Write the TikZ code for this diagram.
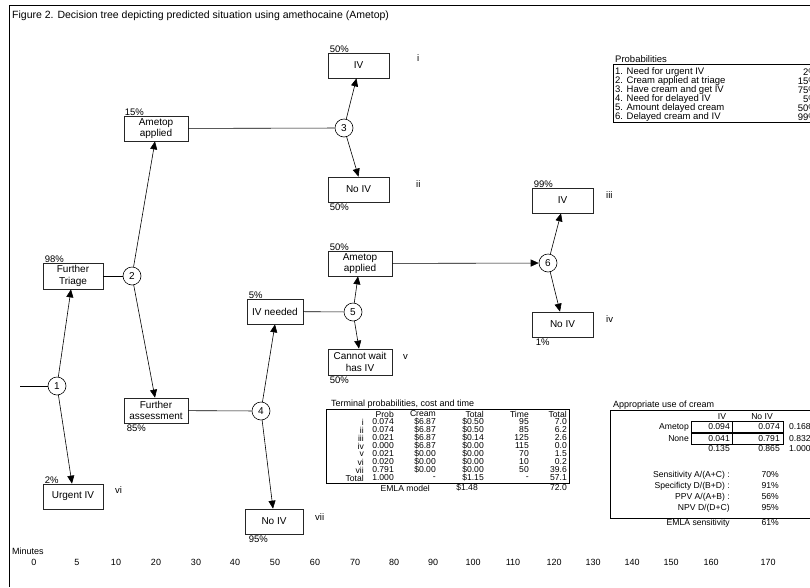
\documentclass[tikz,border=0pt]{standalone}
\usepackage{fontspec}
\setmainfont{Liberation Sans}
\usetikzlibrary{arrows.meta}

\begin{document}
\begin{tikzpicture}[x=1pt,y=-1pt,
  box/.style={draw=black!85,line width=0.7pt,minimum width=61pt,minimum height=25pt,inner sep=1pt,align=center,font=\fontsize{10}{11.5}\selectfont},
  chance/.style={circle,draw,line width=0.6pt,minimum size=18pt,inner sep=0pt,font=\fontsize{10}{10}\selectfont},
  arr/.style={-{Triangle[length=8pt,width=7pt]},line width=0.6pt},
  pct/.style={inner sep=0pt,font=\fontsize{9.5}{9.5}\selectfont},
  lbl/.style={anchor=west,inner sep=0pt,font=\fontsize{9.5}{9.5}\selectfont},
  tab/.style={anchor=east,inner sep=0pt,font=\fontsize{8.6}{8.6}\selectfont}]
\clip (0,0) rectangle (810,587);
\fill[white] (0,0) rectangle (810,587);
\draw[line width=0.6pt] (810,5) -- (9,5) -- (9,587);
\node[anchor=west,inner sep=0pt,font=\fontsize{10.5}{11}\selectfont] (title) at (12,16) {Figure 2. Decision tree depicting predicted situation using amethocaine (Ametop)};

% decision tree
\node[box] (ivA) at (358.5,65.5) {IV};
\node[box] (noivA) at (358.5,189.5) {No IV};
\node[box,minimum width=64pt] (amA) at (156,128.5) {Ametop\\applied};
\node[box,minimum width=60pt,minimum height=26pt] (triage) at (73,276) {Further\\Triage};
\node[box,minimum width=64pt] (assess) at (156,410.5) {Further\\assessment};
\node[box,minimum width=60pt] (urgent) at (73,496.5) {Urgent IV};
\node[box,minimum width=56pt] (ivneed) at (275,311.5) {IV needed};
\node[box,minimum width=58pt] (noivB) at (274,521.5) {No IV};
\node[box,minimum width=64pt] (amB) at (360,263.5) {Ametop\\applied};
\node[box,minimum width=64pt,minimum height=26pt] (wait) at (360,362) {Cannot wait\\has IV};
\node[box] (ivC) at (562.5,200.5) {IV};
\node[box] (noivC) at (562.5,324.5) {No IV};

\node[chance] (c1) at (57,386) {1};
\node[chance] (c2) at (132,276) {2};
\node[chance] (c3) at (344,128) {3};
\node[chance] (c4) at (261,411) {4};
\node[chance] (c5) at (353,312) {5};
\node[chance] (c6) at (548,263) {6};
\coordinate (entry) at (20,386);

\draw[line width=0.6pt] (entry) -- (c1);
\draw[line width=0.6pt] (triage) -- (c2);
\draw[line width=0.6pt] (amA) -- (c3);
\draw[line width=0.6pt] (assess) -- (c4);
\draw[line width=0.6pt] (ivneed) -- (c5);
\draw[arr] (amB) -- (c6);
\draw[arr] (c1) -- ([xshift=-2pt]triage.south);
\draw[arr] (c1) -- ([xshift=-1pt]urgent.north);
\draw[arr] (c2) -- ([xshift=-1pt]amA.south);
\draw[arr] (c2) -- ([xshift=-1pt]assess.north);
\draw[arr] (c3) -- ([xshift=-2pt]ivA.south);
\draw[arr] (c3) -- (noivA.north);
\draw[arr] (c4) -- (ivneed.south);
\draw[arr] (c4) -- ([xshift=-1pt]noivB.north);
\draw[arr] (c5) -- ([xshift=-2pt]amB.south);
\draw[arr] (c5) -- ([xshift=-1pt]wait.north);
\draw[arr] (c6) -- ([xshift=-1.5pt]ivC.south);
\draw[arr] (c6) -- ([xshift=-2.5pt]noivC.north);

% percentages
\node[pct,anchor=south west] (pA) at ([xshift=2pt]ivA.north west) {50\%};
\node[pct,anchor=north west] (pB) at ([xshift=2pt,yshift=-1pt]noivA.south west) {50\%};
\node[pct,anchor=south west] (pC) at ([xshift=1pt]amA.north west) {15\%};
\node[pct,anchor=south west] (pD) at ([xshift=2pt]triage.north west) {98\%};
\node[pct,anchor=north west] (pE) at ([xshift=3pt,yshift=-1pt]assess.south west) {85\%};
\node[pct,anchor=south west] (pF) at ([xshift=2pt]urgent.north west) {2\%};
\node[pct,anchor=south west] (pG) at ([xshift=2pt]ivneed.north west) {5\%};
\node[pct,anchor=north west] (pH) at ([xshift=4pt,yshift=-1pt]noivB.south west) {95\%};
\node[pct,anchor=south west] (pI) at ([xshift=2pt]amB.north west) {50\%};
\node[pct,anchor=north west] (pJ) at ([xshift=2pt,yshift=-1pt]wait.south west) {50\%};
\node[pct,anchor=south west] (pK) at ([xshift=2pt]ivC.north west) {99\%};
\node[pct,anchor=north west] (pL) at ([xshift=4pt,yshift=-1pt]noivC.south west) {1\%};

% outcome labels
\node[lbl] (ri) at (417,58) {i};
\node[lbl] (rii) at (416,184) {ii};
\node[lbl] (riii) at (606,195) {iii};
\node[lbl] (riv) at (606,319) {iv};
\node[lbl] (rv) at (403,357) {v};
\node[lbl] (rvi) at (115,490) {vi};
\node[lbl] (rvii) at (315,517) {vii};

% probabilities
\node[lbl] (probt) at (615,59) {Probabilities};
\draw[line width=0.6pt] (613,64) rectangle (830,122);
\foreach \txt/\val [count=\k] in {1. Need for urgent IV/2,2. Cream applied at triage/15,3. Have cream and get IV/75,4. Need for delayed IV/5,5. Amount delayed cream/50,6. Delayed cream and IV/99}{
  \node[lbl] (pq\k) at (615,63+9*\k) {\txt};
  \node[tab,font=\fontsize{9.5}{9.5}\selectfont] (pv\k) at (817,63+9*\k) {\val\%};
}

% terminal probabilities
\node[lbl,font=\fontsize{9}{9}\selectfont] (termt) at (331,404) {Terminal probabilities, cost and time};
\draw[line width=0.6pt] (326,409) rectangle (569,483);
\node[tab] (h1) at (394,414) {Prob};
\node[tab] (h2) at (436,414) {Cream};
\node[tab] (h3) at (484,414) {Total};
\node[tab] (h4) at (529,414) {Time};
\node[tab] (h5) at (567,414) {Total};
\foreach \r/\p/\c/\t/\m/\s [count=\k] in {i/0.074/\$6.87/\$0.50/95/7.0,ii/0.074/\$6.87/\$0.50/85/6.2,iii/0.021/\$6.87/\$0.14/125/2.6,iv/0.000/\$6.87/\$0.00/115/0.0,v/0.021/\$0.00/\$0.00/70/1.5,vi/0.020/\$0.00/\$0.00/10/0.2,vii/0.791/\$0.00/\$0.00/50/39.6,Total/1.000/-/\$1.15/-/57.1}{
  \node[tab] (tr\k) at (364,414+8*\k) {\r};
  \node[tab] (tp\k) at (394,414+8*\k) {\p};
  \node[tab] (tc\k) at (436,414+8*\k) {\c};
  \node[tab] (tt\k) at (484,414+8*\k) {\t};
  \node[tab] (tm\k) at (529,414+8*\k) {\m};
  \node[tab] (ts\k) at (567,414+8*\k) {\s};
}
\node[tab] (emla) at (430,488) {EMLA model};
\node[tab] (emlac) at (478,488) {\$1.48};
\node[tab] (emlat) at (567,488) {72.0};

% appropriate use of cream
\node[lbl,font=\fontsize{9}{9}\selectfont] (appt) at (613,405) {Appropriate use of cream};
\draw[line width=0.6pt] (830,410) -- (610,410) -- (610,518) -- (830,518);
\node[tab,anchor=center] (hiv) at (722,417) {IV};
\node[tab,anchor=center] (hnoiv) at (762,417) {No IV};
\draw[line width=0.6pt] (691,421) rectangle (783,432) (732,421) -- (732,432);
\draw[line width=0.6pt] (691,433) rectangle (783,444) (732,433) -- (732,444);
\node[tab] (ra) at (689,427) {Ametop};
\node[tab] (ra1) at (730,427) {0.094};
\node[tab] (ra2) at (780,427) {0.074};
\node[tab,anchor=west] (ra3) at (789,427) {0.168};
\node[tab] (rn) at (689,439) {None};
\node[tab] (rn1) at (730,439) {0.041};
\node[tab] (rn2) at (780,439) {0.791};
\node[tab,anchor=west] (rn3) at (789,439) {0.832};
\node[tab] (rs1) at (730,449) {0.135};
\node[tab] (rs2) at (780,449) {0.865};
\node[tab,anchor=west] (rs3) at (789,449) {1.000};
\foreach \txt/\val [count=\k] in {{Sensitivity A/(A+C) :}/70,{Specificty D/(B+D) :}/91,{PPV A/(A+B) :}/56,{NPV D/(D+C)}/95}{
  \node[tab] (sq\k) at (730,464+11*\k) {\txt};
  \node[tab] (sv\k) at (779,464+11*\k) {\val\%};
}
\node[tab] (emsens) at (730,523) {EMLA sensitivity};
\node[tab] (emsv) at (779,523) {61\%};

% time axis
\node[lbl,font=\fontsize{9}{9}\selectfont] (minutes) at (12,551) {Minutes};
\foreach \m/\x in {0/34,5/77,10/116,20/156,30/196,40/235,50/275,60/315,70/355,80/394,90/433,100/473,110/513,120/554,130/593,140/632,150/671,160/711,170/768}{
  \node[inner sep=0pt,font=\fontsize{9}{9}\selectfont] (m\m) at (\x,562) {\m};
}
\end{tikzpicture}
\end{document}
